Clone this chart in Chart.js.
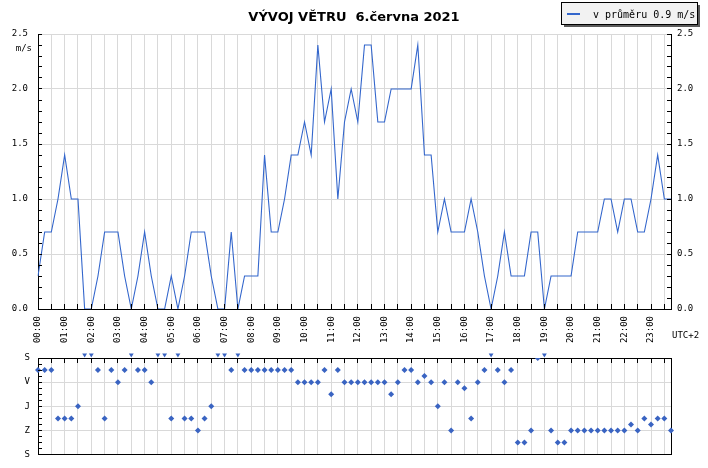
<!DOCTYPE html>
<html>
<head>
<meta charset="utf-8">
<script src="https://cdn.jsdelivr.net/npm/chart.js@4.4.1/dist/chart.umd.min.js"></script>
<style>
  body { margin: 0; background: #fff; width: 708px; height: 468px; overflow: hidden; position: relative; }
  canvas { position: absolute; left: 0; }
  #speed { top: 0; }
  #dir { top: 340px; }
</style>
</head>
<body>
<canvas id="speed" width="708" height="350"></canvas>
<canvas id="dir" width="708" height="128"></canvas>
<script>
// hourly labels, data every 15 minutes
const hourLabels = ['00:00','01:00','02:00','03:00','04:00','05:00','06:00','07:00',
  '08:00','09:00','10:00','11:00','12:00','13:00','14:00','15:00',
  '16:00','17:00','18:00','19:00','20:00','21:00','22:00','23:00'];
const quarterMinutes = ['00', '15', '30', '45'];

// average wind speed (m/s)
const speeds = [
  0.3, 0.7, 0.7, 1.0, 1.4, 1.0, 1.0, 0.0, 0.0, 0.3, 0.7, 0.7, 0.7, 0.3, 0.0, 0.3,
  0.7, 0.3, 0.0, 0.0, 0.3, 0.0, 0.3, 0.7, 0.7, 0.7, 0.3, 0.0, 0.0, 0.7, 0.0, 0.3,
  0.3, 0.3, 1.4, 0.7, 0.7, 1.0, 1.4, 1.4, 1.7, 1.4, 2.4, 1.7, 2.0, 1.0, 1.7, 2.0,
  1.7, 2.4, 2.4, 1.7, 1.7, 2.0, 2.0, 2.0, 2.0, 2.4, 1.4, 1.4, 0.7, 1.0, 0.7, 0.7,
  0.7, 1.0, 0.7, 0.3, 0.0, 0.3, 0.7, 0.3, 0.3, 0.3, 0.7, 0.7, 0.0, 0.3, 0.3, 0.3,
  0.3, 0.7, 0.7, 0.7, 0.7, 1.0, 1.0, 0.7, 1.0, 1.0, 0.7, 0.7, 1.0, 1.4, 1.0, 1.0
];

// wind direction in degrees (null = calm)
const directions = [
  45, 45, 45, 225, 225, 225, 180, null, null, 45, 225, 45, 90, 45, null, 45,
  45, 90, null, null, 225, null, 225, 225, 270, 225, 180, null, null, 45, null, 45,
  45, 45, 45, 45, 45, 45, 45, 90, 90, 90, 90, 45, 135, 45, 90, 90,
  90, 90, 90, 90, 90, 135, 90, 45, 45, 90, 67.5, 90, 180, 90, 270, 90,
  112.5, 225, 90, 45, null, 45, 90, 45, 315, 315, 270, 0, null, 270, 315, 315,
  270, 270, 270, 270, 270, 270, 270, 270, 270, 247.5, 270, 225, 247.5, 225, 225, 270
];

const speedTickLabels = ['0.0', '0.5', '1.0', '1.5', '2.0', '2.5'];
const dirTickLabels = ['S', 'V', 'J', 'Z', 'S'];

const times = hourLabels.flatMap(h => quarterMinutes.map(m => h.slice(0, 3) + m));
const calmMarks = speeds.map(s => s === 0 ? -12 : null);
const average = speeds.reduce((a, b) => a + b, 0) / speeds.length;

const gray = '#d9d9d9';
const blue = '#3366cc';
const mono = 'DejaVu Sans Mono';
const isHalf = v => Math.abs(v * 2 - Math.round(v * 2)) < 1e-6;
const align = p => Math.round(p - 0.5) + 0.5;

// ticks pointing into the plot, title, legend, units
const upperDecor = {
  id: 'upperDecor',
  afterDraw(chart) {
    const ctx = chart.ctx, a = chart.chartArea;
    const { x, y } = chart.scales;
    ctx.save();
    ctx.strokeStyle = '#000';
    ctx.lineWidth = 1;
    ctx.beginPath();
    y.ticks.forEach((t, i) => {
      const py = align(y.getPixelForTick(i));
      ctx.moveTo(a.left, py); ctx.lineTo(a.left + 4, py);
      ctx.moveTo(a.right, py); ctx.lineTo(a.right - 4, py);
    });
    x.ticks.forEach((t, i) => {
      if (i % 2) return;
      const px = align(x.getPixelForTick(i));
      ctx.moveTo(px, a.bottom); ctx.lineTo(px, a.bottom - 5);
    });
    ctx.stroke();

    ctx.fillStyle = '#000';
    ctx.font = 'bold 13px "DejaVu Sans"';
    ctx.textAlign = 'center';
    ctx.textBaseline = 'alphabetic';
    ctx.fillText('VÝVOJ VĚTRU  6.června 2021', 354, 20.5);

    ctx.font = '9px "' + mono + '"';
    ctx.textAlign = 'right';
    ctx.fillText('m/s', 32, 51);
    ctx.textAlign = 'left';
    ctx.textBaseline = 'middle';
    ctx.fillText('UTC+2', 672, 336);

    // legend box with shadow
    ctx.fillStyle = '#5a5a5a';
    ctx.fillRect(564, 5, 136, 22);
    ctx.fillStyle = '#f2f2f2';
    ctx.fillRect(562, 3, 135, 21);
    ctx.strokeStyle = '#000';
    ctx.strokeRect(561.5, 2.5, 136, 22);
    ctx.strokeStyle = blue;
    ctx.lineWidth = 2;
    ctx.beginPath();
    ctx.moveTo(567, 14); ctx.lineTo(580, 14);
    ctx.stroke();
    ctx.fillStyle = '#000';
    ctx.font = '10px "' + mono + '"';
    ctx.textBaseline = 'alphabetic';
    ctx.fillText('v průměru ' + average.toFixed(1) + ' m/s', 593, 18);
    ctx.restore();
  }
};

const lowerDecor = {
  id: 'lowerDecor',
  afterDraw(chart) {
    const ctx = chart.ctx, a = chart.chartArea;
    const { x, y } = chart.scales;
    ctx.save();
    ctx.strokeStyle = '#000';
    ctx.lineWidth = 1;
    ctx.beginPath();
    y.ticks.forEach((t, i) => {
      const py = align(y.getPixelForTick(i));
      ctx.moveTo(a.left, py); ctx.lineTo(a.left + 4, py);
    });
    x.ticks.forEach((t, i) => {
      if (i % 2) return;
      const px = align(x.getPixelForTick(i));
      ctx.moveTo(px, a.top); ctx.lineTo(px, a.top + 5);
    });
    ctx.stroke();
    ctx.restore();
  }
};

const tickFont = { family: mono, size: 9 };

new Chart(document.getElementById('speed'), {
  type: 'line',
  data: {
    labels: times,
    datasets: [{
      data: speeds,
      borderColor: blue,
      borderWidth: 1.1,
      pointRadius: 0,
      tension: 0,
      fill: false,
      yAxisID: 'y'
    }]
  },
  options: {
    responsive: false,
    animation: false,
    events: [],
    layout: { padding: { top: 34, left: 0, right: 0, bottom: 0 } },
    plugins: { legend: { display: false }, tooltip: { enabled: false } },
    scales: {
      x: {
        type: 'category',
        offset: false,
        grid: { color: c => c.index % 2 === 0 ? gray : 'rgba(0,0,0,0)', drawTicks: false },
        border: { display: true, color: '#000' },
        ticks: {
          autoSkip: false, minRotation: 90, maxRotation: 90, padding: 7,
          color: '#000', font: tickFont,
          callback: (v, i) => i % 4 === 0 ? hourLabels[i / 4] : ''
        },
        afterFit: s => { s.height = 41; }
      },
      y: {
        position: 'left', min: 0, max: 2.5,
        ticks: {
          stepSize: 0.1, autoSkip: false, padding: 10, color: '#000', font: tickFont,
          callback: v => isHalf(v) ? speedTickLabels[Math.round(v * 2)] : ''
        },
        grid: { color: c => isHalf(c.tick.value) ? gray : 'rgba(0,0,0,0)', drawTicks: false },
        border: { color: '#000' },
        afterFit: s => { s.width = 38; }
      },
      y2: {
        position: 'right', min: 0, max: 2.5,
        ticks: {
          stepSize: 0.1, autoSkip: false, padding: 6, color: '#000', font: tickFont,
          callback: v => isHalf(v) ? speedTickLabels[Math.round(v * 2)] : ''
        },
        grid: { display: false, drawTicks: false },
        border: { color: '#000' },
        afterFit: s => { s.width = 37; }
      }
    }
  },
  plugins: [upperDecor]
});

const lastIndex = times.length - 1;

new Chart(document.getElementById('dir'), {
  type: 'line',
  data: {
    labels: times,
    datasets: [{
      data: directions,
      showLine: false,
      pointStyle: 'rectRot',
      pointRadius: 3,
      backgroundColor: '#3a64c2',
      borderColor: '#3a64c2',
      borderWidth: 0
    }, {
      data: calmMarks,
      showLine: false,
      pointStyle: 'triangle',
      rotation: 180,
      pointRadius: 2.8,
      backgroundColor: '#3a64c2',
      borderColor: '#3a64c2',
      borderWidth: 0,
      clip: false
    }]
  },
  options: {
    responsive: false,
    animation: false,
    events: [],
    layout: { padding: { top: 18, left: 0, right: 37, bottom: 10 } },
    plugins: { legend: { display: false }, tooltip: { enabled: false } },
    scales: {
      x: {
        type: 'category',
        offset: false,
        grid: {
          color: c => c.index === lastIndex ? '#000' : (c.index % 2 === 0 ? gray : 'rgba(0,0,0,0)'),
          drawTicks: false
        },
        border: { display: false },
        ticks: { display: false, autoSkip: false },
        afterFit: s => { s.height = 0; }
      },
      y: {
        reverse: true, min: 0, max: 360,
        ticks: {
          stepSize: 22.5, autoSkip: false, padding: 8, color: '#000', font: tickFont,
          callback: v => v % 90 === 0 ? dirTickLabels[v / 90] : ''
        },
        grid: {
          color: c => (c.tick.value === 0 || c.tick.value === 360) ? '#000'
            : (c.tick.value % 90 === 0 ? gray : 'rgba(0,0,0,0)'),
          drawTicks: false
        },
        border: { color: '#000' },
        afterFit: s => { s.width = 38; }
      }
    }
  },
  plugins: [lowerDecor]
});
</script>
</body>
</html>
